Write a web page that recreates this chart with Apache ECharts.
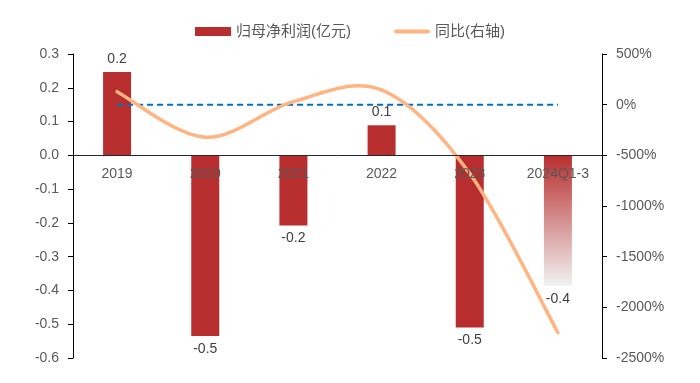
<!DOCTYPE html>
<html><head><meta charset="utf-8">
<script src="https://cdn.jsdelivr.net/npm/echarts@6/dist/echarts.min.js"></script>
<style>html,body{margin:0;padding:0;background:#fff}#c{width:700px;height:383px}</style>
</head><body><div id="c"></div>
<script>
const categories = ['2019','2020','2021','2022','2023','2024Q1-3'];
const profit = [0.247, -0.535, -0.208, 0.089, -0.51, -0.386];
const yoy = [128, -322, 30, 145, -680, -2250];
const baseline = [0, 0, 0, 0, 0, 0];
const leftTicks = {min: -0.6, max: 0.3, interval: 0.1};
const rightTicks = {min: -2500, max: 500, interval: 500};

const FONT = '"Liberation Sans", Arial, "Noto Sans CJK SC", sans-serif';
const barColor = '#B82E2E';
const lineColor = '#FFB482';
const gridTop = 54, gridBottom = 25, H = 383;
const plotH = H - gridTop - gridBottom;
const zeroOffset = -plotH * (0 - leftTicks.min) / (leftTicks.max - leftTicks.min);

const chart = echarts.init(document.getElementById('c'));
const barData = profit.map((v, i) => {
  if (i === profit.length - 1) {
    return {value: v, itemStyle: {color: new echarts.graphic.LinearGradient(0, 0, 0, 1, [
      {offset: 0, color: '#B82E2E'}, {offset: 1, color: '#F2F2F2'}])}};
  }
  return v;
});

// Excel-like (Catmull-Rom) spline segments drawn through the axis scales
function renderSpline(params, api) {
  const i = params.dataIndex;
  const n = yoy.length;
  if (i >= n - 1) return null;
  const P = k => api.coord([Math.max(0, Math.min(n - 1, k)), yoy[Math.max(0, Math.min(n - 1, k))]]);
  const p0 = P(i - 1), p1 = P(i), p2 = P(i + 1), p3 = P(i + 2);
  const cp1x = p1[0] + (p2[0] - p0[0]) / 6, cp1y = p1[1] + (p2[1] - p0[1]) / 6;
  const cp2x = p2[0] - (p3[0] - p1[0]) / 6, cp2y = p2[1] - (p3[1] - p1[1]) / 6;
  return {
    type: 'bezierCurve',
    shape: {x1: p1[0], y1: p1[1], x2: p2[0], y2: p2[1], cpx1: cp1x, cpy1: cp1y, cpx2: cp2x, cpy2: cp2y},
    style: {stroke: lineColor, lineWidth: 3.5, fill: null, lineCap: 'round'}
  };
}

chart.setOption({
  animation: false,
  textStyle: {fontFamily: FONT},
  legend: {
    top: 19, left: 'center', itemGap: 43, itemWidth: 36, itemHeight: 9,
    textStyle: {fontSize: 15, color: '#595959', fontFamily: FONT},
    data: [{name: '归母净利润(亿元)', icon: 'rect'},
           {name: '同比(右轴)', icon: 'path://M2,0 L34,0 A2,2 0 0 1 34,4 L2,4 A2,2 0 0 1 2,0 Z'}]
  },
  grid: {left: 73, right: 98, top: gridTop, bottom: gridBottom},
  xAxis: {
    type: 'category', data: categories, z: 10, offset: zeroOffset,
    axisLine: {onZero: false, lineStyle: {color: '#262626', width: 1}},
    axisTick: {show: false},
    axisLabel: {color: '#595959', fontSize: 14, margin: 12, fontFamily: FONT}
  },
  yAxis: [{
    type: 'value', min: leftTicks.min, max: leftTicks.max, interval: leftTicks.interval,
    axisLine: {show: true, lineStyle: {color: '#000', width: 1}},
    axisTick: {show: true, length: 5, lineStyle: {color: '#000'}},
    splitLine: {show: false},
    axisLabel: {color: '#595959', fontSize: 14, margin: 14, fontFamily: FONT,
      formatter: v => v.toFixed(1)}
  }, {
    type: 'value', min: rightTicks.min, max: rightTicks.max, interval: rightTicks.interval,
    position: 'right',
    axisLine: {show: true, lineStyle: {color: '#000', width: 1}},
    axisTick: {show: true, length: 5, lineStyle: {color: '#000'}},
    splitLine: {show: false},
    axisLabel: {color: '#595959', fontSize: 14, margin: 14, fontFamily: FONT,
      formatter: v => v + '%'}
  }],
  series: [{
    name: '归母净利润(亿元)', type: 'bar', yAxisIndex: 0, barWidth: 28,
    itemStyle: {color: barColor}, data: barData, z: 2,
    label: {show: true, position: 'outside', color: '#404040', fontSize: 14, distance: 6,
      fontFamily: FONT, formatter: p => Number(p.value).toFixed(1)}
  }, {
    name: 'zero', type: 'line', yAxisIndex: 1, data: baseline, symbol: 'none', silent: true,
    lineStyle: {color: '#0070C0', width: 2, type: [6, 4]}, z: 3
  }, {
    name: '同比(右轴)', type: 'custom', yAxisIndex: 1, z: 4, silent: true,
    itemStyle: {color: lineColor},
    renderItem: renderSpline,
    encode: {x: 0, y: 1},
    data: yoy.map((v, i) => [i, v])
  }]
});
</script></body></html>
